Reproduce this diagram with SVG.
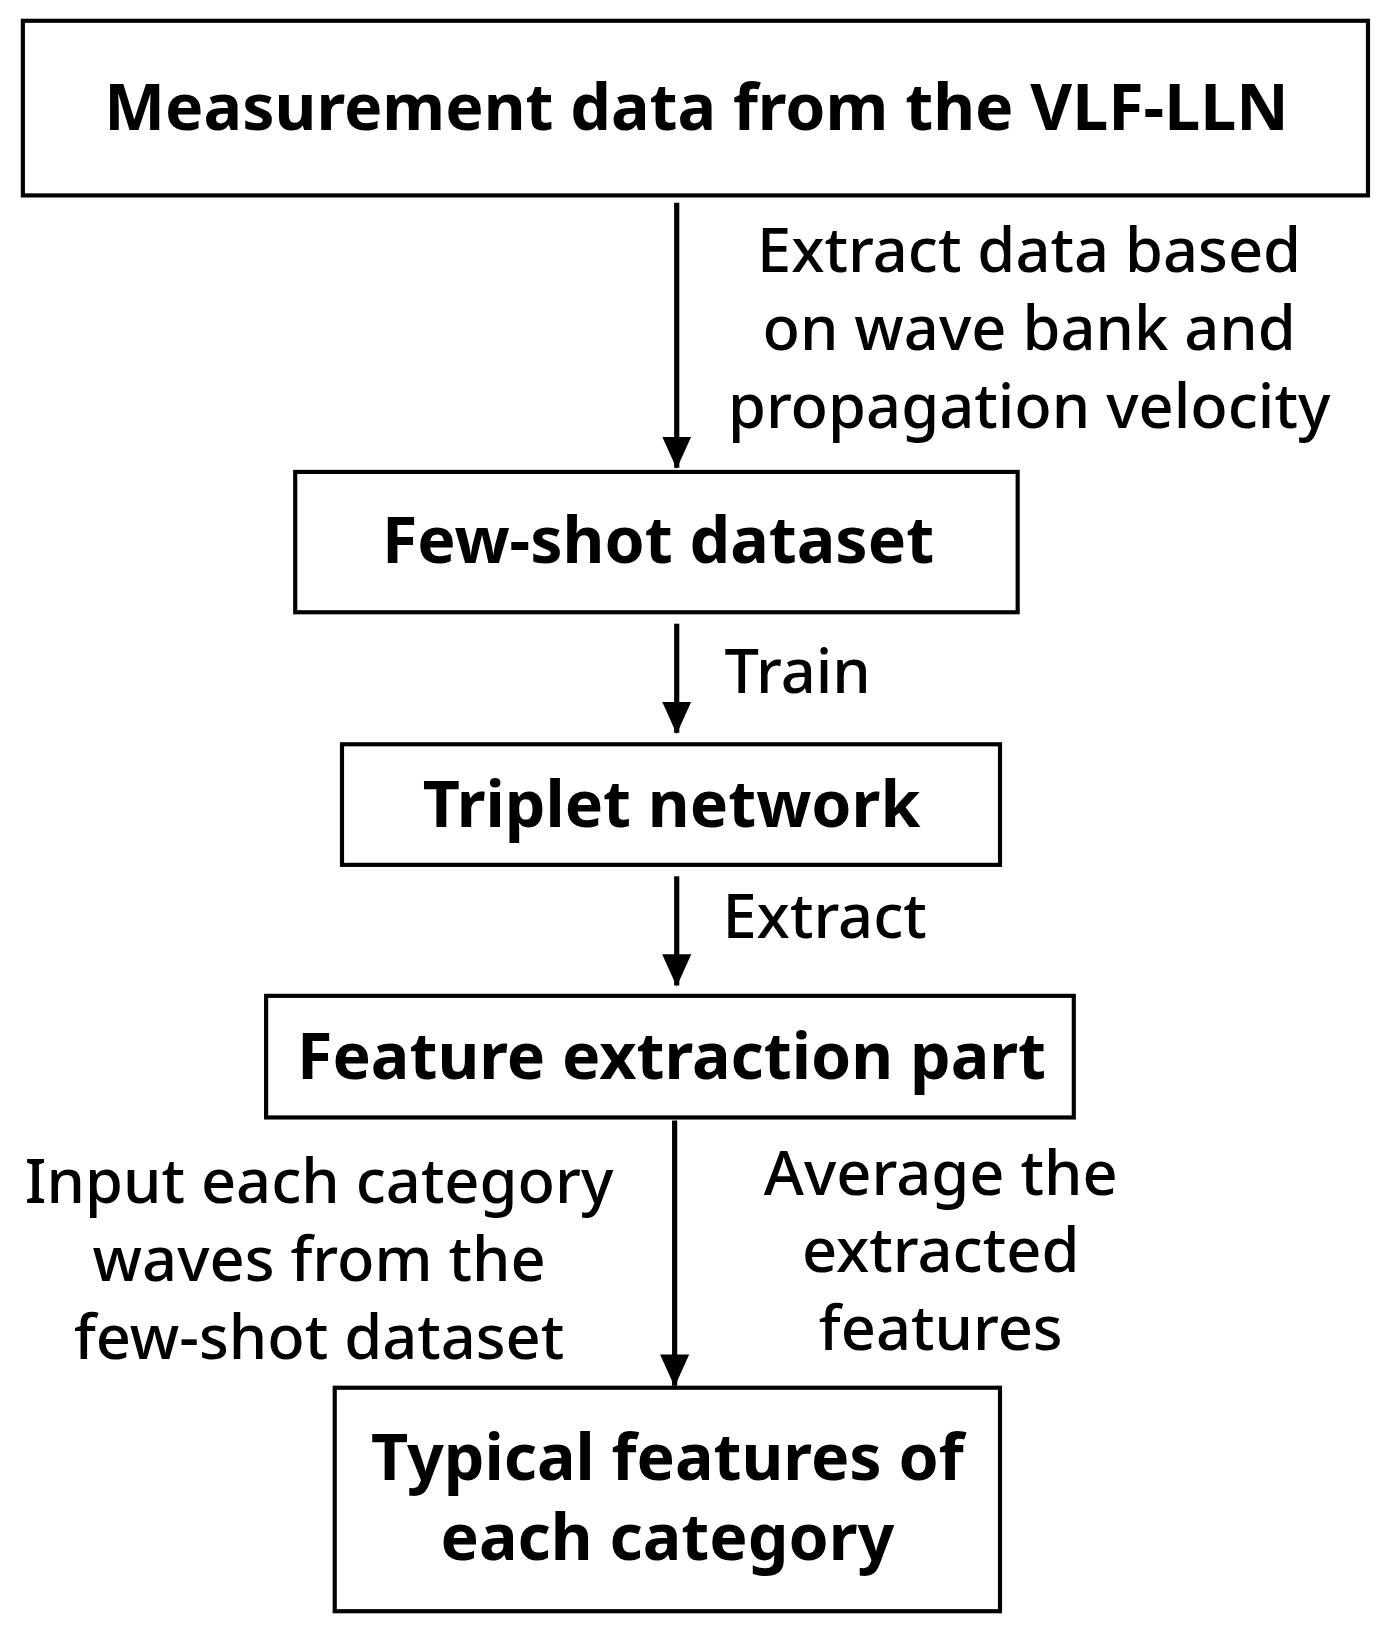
<svg xmlns="http://www.w3.org/2000/svg" width="1386" height="1630" viewBox="0 0 1386 1630">
<defs>
<style>
.box{fill:#fff;stroke:#000;stroke-width:4}
.t{font-family:"Noto Sans","Open Sans",sans-serif;font-weight:bold;font-size:62px;text-anchor:middle;fill:#000}
.l{font-family:"Noto Sans","Open Sans",sans-serif;font-size:59px;fill:#000;font-weight:500}
.c{stroke:#000;stroke-width:5;fill:none}
</style>
<marker id="ah" markerWidth="32" markerHeight="32" refX="30" refY="15" orient="auto" markerUnits="userSpaceOnUse" viewBox="0 0 32 32">
<path d="M0,1 L31,15 L0,29 z" fill="#000"/>
</marker>
</defs>
<rect width="1386" height="1630" fill="#fff"/>
<g transform="scale(1.0395)">
<g id="n1"><rect class="box" x="22" y="20" width="1294" height="168"/><text class="t" x="670" y="125">Measurement data from the VLF-LLN</text></g>
<g id="n2"><rect class="box" x="284" y="454" width="695" height="135"/><text class="t" x="633" y="542">Few-shot dataset</text></g>
<g id="n3"><rect class="box" x="329" y="716" width="633" height="116"/><text class="t" x="646" y="796">Triplet network</text></g>
<g id="n4"><rect class="box" x="256" y="958" width="777" height="117"/><text class="t" x="646" y="1038">Feature extraction part</text></g>
<g id="n5"><rect class="box" x="322" y="1335" width="640" height="215"/><text class="t" x="642" y="1424">Typical features of</text><text class="t" x="642" y="1501">each category</text></g>
<g id="connectors">
<line class="c" x1="651" y1="195" x2="651" y2="450" marker-end="url(#ah)"/>
<line class="c" x1="651" y1="600" x2="651" y2="705" marker-end="url(#ah)"/>
<line class="c" x1="651" y1="843" x2="651" y2="948" marker-end="url(#ah)"/>
<line class="c" x1="649" y1="1078" x2="649" y2="1333" marker-end="url(#ah)"/>
<g class="l" text-anchor="middle">
<text x="990" y="262">Extract data based</text>
<text x="990" y="337">on wave bank and</text>
<text x="990" y="412">propagation velocity</text>
<text x="307" y="1157">Input each category</text>
<text x="307" y="1232">waves from the</text>
<text x="307" y="1307">few-shot dataset</text>
<text x="905" y="1150">Average the</text>
<text x="905" y="1224">extracted</text>
<text x="905" y="1299">features</text>
</g>
<text class="l" x="697" y="667">Train</text>
<text class="l" x="695" y="902">Extract</text>
</g>
</g>
</svg>
